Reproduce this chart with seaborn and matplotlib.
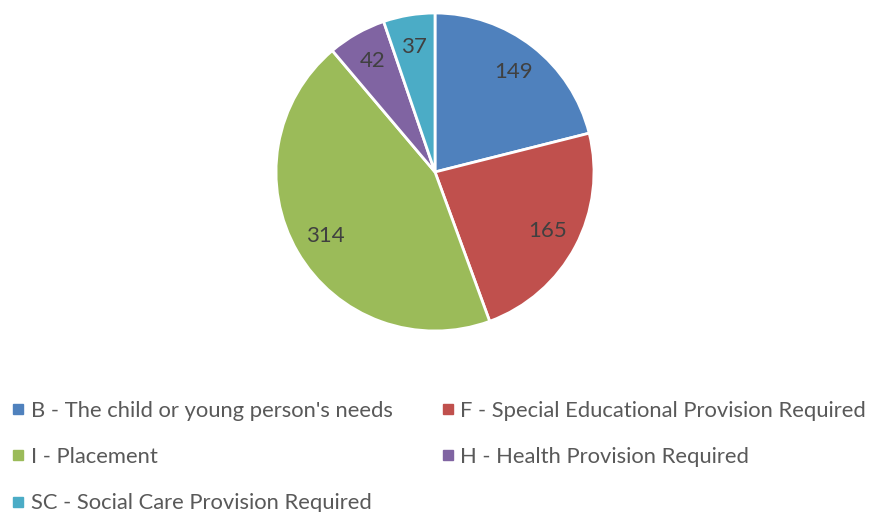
import matplotlib
matplotlib.use("Agg")
import matplotlib.pyplot as plt
from matplotlib.lines import Line2D
import seaborn as sns

# Data
categories = [
    "B - The child or young person's needs",
    "F - Special Educational Provision Required",
    "I - Placement",
    "H - Health Provision Required",
    "SC - Social Care Provision Required",
]
counts = [149, 165, 314, 42, 37]
colors = ["#4F81BD", "#C0504D", "#9BBB59", "#8064A2", "#4BACC6"]

sns.set_style("white")
plt.rcParams["font.family"] = ["Lato", "DejaVu Sans"]

fig = plt.figure(figsize=(8.71, 5.12), dpi=100)
ax = fig.add_axes([276 / 871, (512 - 331) / 512, 318 / 871, 318 / 512])

wedges, texts, autotexts = ax.pie(
    counts,
    colors=colors,
    startangle=90,
    counterclock=False,
    autopct=lambda p: f"{round(p * sum(counts) / 100):d}",
    pctdistance=0.8,
    wedgeprops={"edgecolor": "white", "linewidth": 2},
    textprops={"fontsize": 16, "color": "#404040"},
)
ax.set_xlim(-1.0, 1.0)
ax.set_ylim(-1.0, 1.0)
ax.axis("off")

# legend fills column-wise, so order items to read row-wise like the original
order = [0, 2, 4, 1, 3]
handles = [
    Line2D([0], [0], marker="s", linestyle="none", markersize=7,
           markerfacecolor=colors[i], markeredgecolor=colors[i])
    for i in order
]
labels = [categories[i] for i in order]
fs = 15.8
fig.legend(
    handles, labels,
    loc="upper left", bbox_to_anchor=(13 / 871, 1 - 401 / 512),
    ncol=2, frameon=False, fontsize=fs, labelcolor="#595959",
    handlelength=0.45, handletextpad=0.35, columnspacing=2.3,
    labelspacing=1.19, borderaxespad=0, borderpad=0,
)

fig.savefig("out.png", dpi=100)
